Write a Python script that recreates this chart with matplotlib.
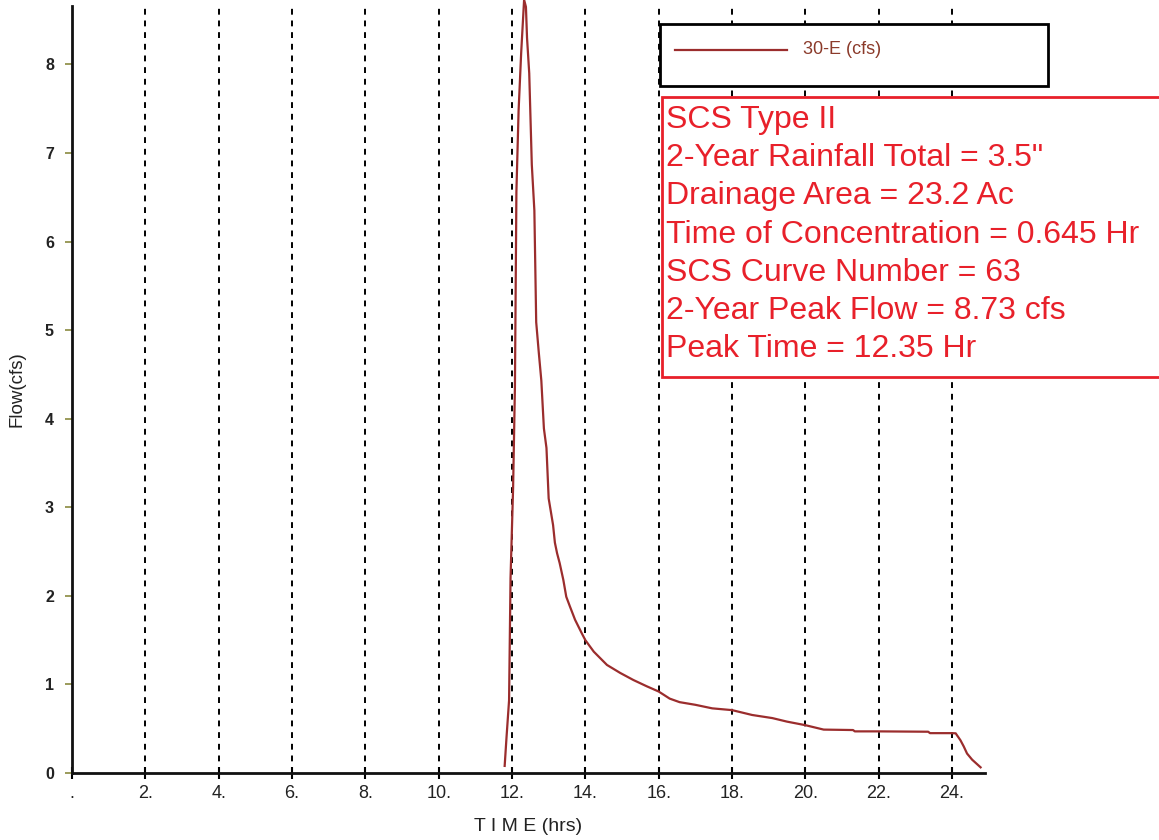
"""Hydrograph for drainage area 30-E, SCS Type II 2-year storm."""

import matplotlib
matplotlib.use("Agg")
import matplotlib.pyplot as plt
from matplotlib.patches import Rectangle
from matplotlib.lines import Line2D

plt.rcParams["font.family"] = ["Liberation Sans", "DejaVu Sans"]

# Hydrograph (hrs, cfs)
time_hr = [11.80, 11.85, 11.92, 11.96, 12.03, 12.08, 12.12, 12.18, 12.25, 12.33,
           12.38, 12.41, 12.47, 12.54, 12.61, 12.66, 12.73, 12.80, 12.87, 12.94,
           13.00, 13.06, 13.12, 13.17, 13.23, 13.30, 13.40, 13.48, 13.58, 13.72,
           13.90, 14.00, 14.23, 14.59, 14.95, 15.31, 15.67, 16.00, 16.30, 16.57,
           17.00, 17.46, 18.00, 18.55, 19.10, 19.50, 20.00, 20.50, 21.30, 21.35,
           22.00, 23.35, 23.40, 24.00, 24.10, 24.23, 24.32, 24.41, 24.55, 24.78]
flow_cfs = [0.08, 0.40, 0.82, 2.20, 3.22, 4.36, 6.56, 7.48, 8.13, 8.73,
            8.65, 8.30, 7.90, 6.87, 6.35, 5.09, 4.75, 4.43, 3.89, 3.67,
            3.10, 2.95, 2.80, 2.60, 2.48, 2.37, 2.18, 1.99, 1.88, 1.73,
            1.58, 1.50, 1.37, 1.22, 1.13, 1.05, 0.98, 0.92, 0.84, 0.80,
            0.77, 0.73, 0.71, 0.655, 0.62, 0.58, 0.54, 0.49, 0.485, 0.47,
            0.47, 0.466, 0.45, 0.45, 0.448, 0.37, 0.30, 0.22, 0.15, 0.064]

series_name = "30-E (cfs)"
x_ticks = [0, 2, 4, 6, 8, 10, 12, 14, 16, 18, 20, 22, 24]
x_tick_labels = [".", "2.", "4.", "6.", "8.", "10.", "12.", "14.", "16.", "18.", "20.", "22.", "24."]
y_ticks = [0, 1, 2, 3, 4, 5, 6, 7, 8]

notes = [
    "SCS Type II",
    '2-Year Rainfall Total = 3.5"',
    "Drainage Area = 23.2 Ac",
    "Time of Concentration = 0.645 Hr",
    "SCS Curve Number = 63",
    "2-Year Peak Flow = 8.73 cfs",
    "Peak Time = 12.35 Hr",
]

W, H = 1159, 840
fig = plt.figure(figsize=(W / 100, H / 100), dpi=100)
ax = fig.add_axes([72 / W, 1 - 773 / H, (985 - 72) / W, (773 - 6) / H])

line_color = "#9b2d2d"
ax.plot(time_hr, flow_cfs, color=line_color, lw=1.6, clip_on=False, zorder=3)

for t in x_ticks[1:]:
    ax.axvline(t, color="black", lw=1.4, ls=(0, (3, 3)), zorder=1)

ax.set_xlim(0, 24.9)
ax.set_ylim(0, 8.66)
ax.set_xticks(x_ticks)
ax.set_xticklabels(x_tick_labels, fontsize=13, color="#222222")
ax.set_yticks(y_ticks)
ax.set_yticklabels([str(v) for v in y_ticks], fontsize=11.5, fontweight="bold", color="#222222")
ax.tick_params(axis="x", direction="inout", length=9, width=1.5, color="black", pad=4)
ax.tick_params(axis="y", direction="out", length=5, width=1.2, color="#8a8a40", pad=8)

for side in ["top", "right"]:
    ax.spines[side].set_visible(False)
for side in ["left", "bottom"]:
    ax.spines[side].set_linewidth(2)
    ax.spines[side].set_color("#111111")

ax.set_xlabel("T I M E (hrs)", fontsize=14, color="#222222", labelpad=12)
ax.set_ylabel("Flow(cfs)", fontsize=13.5, color="#222222", labelpad=14)

# legend box (drawn in figure pixels)
def fx(px):
    return px / W

def fy(py):
    return 1 - py / H

fig.add_artist(Rectangle((fx(660), fy(86)), fx(1048) - fx(660), fy(24) - fy(86),
                         transform=fig.transFigure, fc="white", ec="black", lw=2))
fig.add_artist(Line2D([fx(675), fx(787)], [fy(50), fy(50)], transform=fig.transFigure,
                      color=line_color, lw=1.6, zorder=2))
fig.text(fx(803), fy(50), series_name, fontsize=13, color="#8b3a2a", va="center", ha="left",
         zorder=3)

# red notes box
fig.add_artist(Rectangle((fx(662), fy(377)), fx(1170) - fx(662), fy(97) - fy(377),
                         transform=fig.transFigure, fc="white", ec="#e8202a", lw=2))
for i, s in enumerate(notes):
    fig.text(fx(666), fy(120 + i * 38.2), s, fontsize=23, color="#e8202a",
             va="center", ha="left", zorder=3)

fig.savefig("out.png", dpi=100)
